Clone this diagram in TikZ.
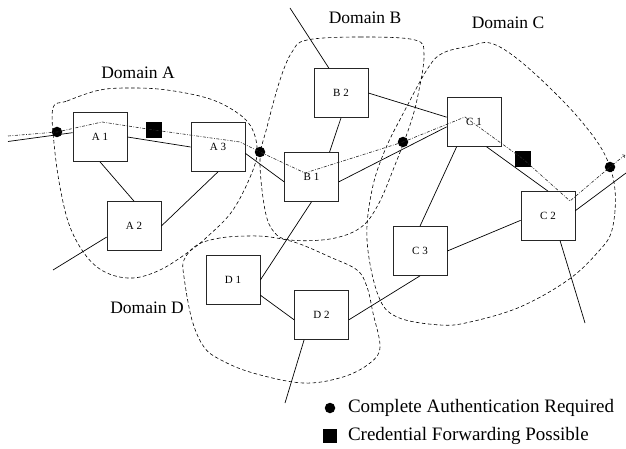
\documentclass[tikz,border=0pt]{standalone}
\usepackage{fontspec}
\setmainfont{Liberation Serif}
\usepackage{tikz}

\begin{document}
\begin{tikzpicture}[x=1pt,y=-1pt,
  router/.style={draw=black!85,line width=0.7pt,fill=white,minimum width=54pt,minimum height=49pt,inner sep=0pt,font={\fontsize{11}{13}\selectfont}},
  link/.style={line width=0.7pt},
  zone/.style={line width=0.6pt,dash pattern=on 3.5pt off 2.5pt},
  route/.style={line width=0.6pt,black!85,dash pattern=on 3pt off 1.5pt on 0.8pt off 1.5pt},
  authdot/.style={circle,fill,inner sep=0pt,minimum size=10.5pt},
  fwdsq/.style={rectangle,fill,inner sep=0pt,minimum size=16pt},
  dlabel/.style={font={\fontsize{17.5}{20}\selectfont}},
  legendtext/.style={anchor=west,font={\fontsize{19}{22}\selectfont}}]

  \useasboundingbox (0,0) rectangle (626,449);

  \draw [zone] plot [smooth cycle,tension=0.6] coordinates {(53,108) (67,101) (100,90) (133,88) (167,90) (207,98) (233,110) (250,125) (257,147) (253,170) (233,210) (207,237) (187,253) (160,270) (133,278) (107,273) (87,257) (70,227) (60,187) (54,143)};
  \draw [zone] plot [smooth cycle,tension=0.6] coordinates {(307,40) (360,37) (415,40) (424,55) (418,95) (410,125) (395,165) (378,205) (360,228) (330,239) (290,240) (274,232) (265,210) (260,160) (267,127) (280,80) (292,52)};
  \draw [zone] plot [smooth cycle,tension=0.6] coordinates {(443,53) (470,46) (490,43) (515,57) (550,88) (582,122) (605,155) (615,190) (612,230) (598,252) (568,280) (520,307) (470,322) (440,325) (397,317) (378,295) (367,240) (372,190) (385,150) (405,110) (428,68)};
  \draw [zone] plot [smooth cycle,tension=0.6] coordinates {(247,236) (220,238) (197,245) (184,260) (184,277) (192,320) (204,347) (221,360) (253,373) (303,383) (343,377) (370,363) (380,347) (373,313) (367,287) (357,270) (330,257) (297,243) (270,237)};

  \node [dlabel] (labA) at (138,73) {Domain A};
  \node [dlabel] (labB) at (365,18) {Domain B};
  \node [dlabel] (labC) at (508,23) {Domain C};
  \node [dlabel] (labD) at (147,308) {Domain D};

  \node [router] (A1) at (100,137) {A 1};
  \node [router] (A2) at (134,226) {A 2};
  \node [router] (A3) at (218,147) {A 3};
  \node [router] (B1) at (311.5,177) {B 1};
  \node [router] (B2) at (341,93) {B 2};
  \node [router] (C1) at (474,122) {C 1};
  \node [router] (C2) at (548,216) {C 2};
  \node [router] (C3) at (420,251) {C 3};
  \node [router] (D1) at (233,280) {D 1};
  \node [router] (D2) at (321.5,315) {D 2};

  \coordinate (inA) at (8,141.5);
  \coordinate (outA) at (53,270);
  \coordinate (outB) at (290,8);
  \coordinate (outC) at (626,173);
  \coordinate (downC) at (585,323);
  \coordinate (downD) at (285,403);

  \draw [link] (inA) -- (A1.171);
  \draw [link] (A1.east) -- (A3.west);
  \draw [link] (A1.south) -- (A2.north);
  \draw [link] (A3.south) -- (A2.east);
  \draw [link] (A2.202) -- (outA);
  \draw [link] (A3.347) -- (B1.190);
  \draw [link] (B1.54) -- (B2.south);
  \draw [link] (B2.116) -- (outB);
  \draw [link] (B2.east) -- (C1.170);
  \draw [link] (B1.350) -- (C1.190);
  \draw [link] (B1.south) -- (D1.east);
  \draw [link] (D1.331) -- (D2.190);
  \draw [link] (D2.235) -- (downD);
  \draw [link] (D2.350) -- (C3.south);
  \draw [link] (C3.north) -- (C1.235);
  \draw [link] (C3.east) -- (C2.189);
  \draw [link] (C1.297) -- (C2.north);
  \draw [link] (C2.11) -- (outC);
  \draw [link] (C2.296) -- (downC);

  \node [authdot] (au1) at (57,132) {};
  \node [authdot] (au2) at (260,152) {};
  \node [authdot] (au3) at (403,142) {};
  \node [authdot] (au4) at (610,167) {};
  \node [fwdsq] (fw1) at (154,130) {};
  \node [fwdsq] (fw2) at (523,159) {};

  \coordinate (start) at (8,136);
  \coordinate (stop) at (625,155);
  \draw [route,->] (start) -- (au1.center) -- (102,122) -- (fw1.center) -- (240,142) -- (au2.center) -- (305,173) -- (au3.center) -- (465,117) -- (fw2.center) -- (570,201) -- (au4.center) -- (stop);

  \node [authdot] (keyau) at (330,408) {};
  \node [fwdsq,minimum size=14pt] (keyfw) at (330,436) {};
  \node [legendtext] (txtau) at (344.5,408) {Complete Authentication Required};
  \node [legendtext] (txtfw) at (344.5,436) {Credential Forwarding Possible};

\end{tikzpicture}
\end{document}
